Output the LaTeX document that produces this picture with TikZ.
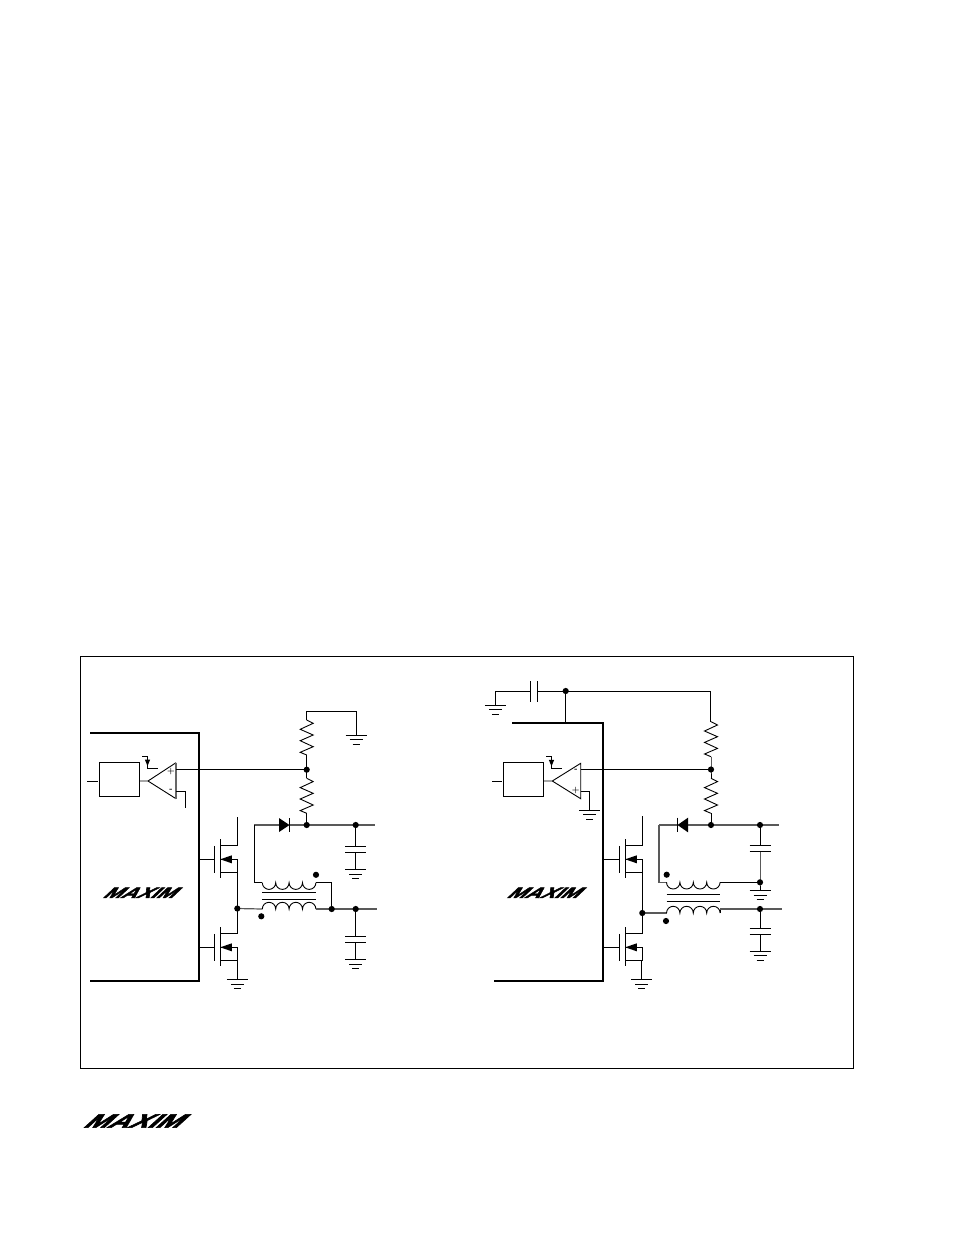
\documentclass[tikz,border=0pt]{standalone}
\usepackage{fontspec}
\newfontfamily\logofont[FakeSlant=0.75, FakeBold=2.5]{Liberation Sans Bold}
\usetikzlibrary{positioning, calc}
\tikzset{
	wire/.style={line width=0.9pt},
	rail/.style={line width=1.2pt, black!65},
	chip/.style={line width=2.4pt, line cap=butt, line join=miter},
	dot/.style={circle, fill, inner sep=0pt, minimum size=6.2pt},
	block/.style={draw, line width=0.9pt, inner sep=0pt, minimum width=40pt, minimum height=34.5pt},
	pin/.style={font=\fontsize{8}{8}\selectfont\bfseries, inner sep=0pt},
	logo/.style={inner sep=0pt},
	gnd/.pic={\draw[wire] (-10.5,0) -- (10.5,0) (-6.5,4.8) -- (6.5,4.8) (-3.5,9.2) -- (3.5,9.2);},
	plates/.pic={\draw[wire] (-10.5,0) -- (10.5,0) (-10.5,6) -- (10.5,6);},
	zigzag/.pic={\draw[wire] (0,0) -- (6.5,3.3) -- (-6.5,9.3) -- (6.5,15) -- (-6.5,20.7) -- (6.5,26.7) -- (-6.5,32.3) -- (0,35);},
	coildown/.pic={\draw[wire] (0,0) arc[start angle=180, delta angle=180, radius=6.7pt] arc[start angle=180, delta angle=180, radius=6.7pt] arc[start angle=180, delta angle=180, radius=6.7pt] arc[start angle=180, delta angle=180, radius=6.7pt];},
	coilup/.pic={\draw[wire] (0,0) arc[start angle=180, delta angle=-180, radius=6.7pt] arc[start angle=180, delta angle=-180, radius=6.7pt] arc[start angle=180, delta angle=-180, radius=6.7pt] arc[start angle=180, delta angle=-180, radius=6.7pt];},
	core/.pic={\draw[wire] (0,0) -- (53.7,0) (0,7) -- (53.7,7);},
	mosfet/.pic={
		\draw[wire] (-6,-13.5) -- (-6,13.5) (0,-20) -- (0,19);
		\draw[wire] (0,-13.5) -- (17,-13.5) (0,13.5) -- (17,13.5) -- (17,0) -- (0,0);
		\fill (0,0) -- (11.5,-4) -- (11.5,4) -- cycle;
		\coordinate (-g) at (-6,0);
		\coordinate (-d) at (17,-13.5);
		\coordinate (-s) at (17,13.5);
	},
	sense/.pic={
		\draw[wire] (0,0) -- (5.5,0) -- (5.5,12) -- (15.5,12);
		\fill (2.8,3.5) -- (8.2,3.5) -- (5.5,10) -- cycle;
	}
}
\newcommand{\maximlogo}[2]{\resizebox{#1}{#2}{\logofont MAXIM}}

\begin{document}
\begin{tikzpicture}[x=1pt, y=-1pt]
	\useasboundingbox (0,0) rectangle (954,1235);
	\draw[line width=1pt] (80.5,656.5) rectangle (853.7,1068.5);

	% left circuit
	\coordinate (lfb) at (306.7,769.7);
	\coordinate (lrect) at (306.7,825);
	\coordinate (lcapa) at (355.7,825);
	\coordinate (lsw) at (237.3,908.5);
	\coordinate (lsec) at (331.7,909);
	\coordinate (lcapb) at (355.7,909);
	\draw[chip] (90,733) -- (199,733) -- (199,981) -- (90,981);
	\node[block] (lpwm) at (119.5,779.5) {};
	\coordinate (ltip) at (148,781);
	\coordinate (lplus) at (176,769.7);
	\coordinate (lminus) at (176,791);
	\draw[wire] (87.3,781) -- (98,781);
	\draw[wire] (139.7,781) -- (ltip) -- (176,762.7);
	\draw[wire] (ltip) -- (176,798.7);
	\draw[line width=1.2pt, black!60] (176,762.7) -- (176,798.7);
	\node[pin] (lp) at (171,771) {+};
	\node[pin] (lm) at (171,790) {-};
	\pic at (142,756) {sense};
	\draw[wire] (lplus) -- (lfb);
	\draw[wire] (lminus) -- (185,791) -- (185,808.3);
	% divider
	\draw[wire] (lfb) -- (306.7,755);
	\pic at (306.7,720) {zigzag};
	\draw[wire] (306.7,720) -- (306.7,711.3) -- (356.7,711.3) -- (356.7,735);
	\pic at (356,735) {gnd};
	\draw[wire] (lfb) -- (306.7,778.3);
	\pic at (306.7,778.3) {zigzag};
	\draw[wire] (306.7,813.3) -- (lrect);
	% diode and rail
	\draw[rail] (254.3,825) -- (279,825);
	\draw[rail] (289.7,825) -- (375,825);
	\fill (279,818) -- (289.5,825) -- (279,832) -- cycle;
	\draw[wire] (289.7,818) -- (289.7,832);
	\draw[wire] (lcapa) -- (355.7,846);
	\pic at (355.7,846) {plates};
	\draw[wire] (355.7,852) -- (355.7,869.3);
	\pic at (355.7,869.3) {gnd};
	% switches
	\pic (lhi) at (220.3,859.3) {mosfet};
	\pic (llo) at (220.3,947.3) {mosfet};
	\draw[wire] (199,859.3) -- (lhi-g);
	\draw[wire] (199,947.3) -- (llo-g);
	\draw[wire] (lhi-d) -- (237.3,816.7);
	\draw[wire] (lhi-s) -- (lsw) -- (llo-d);
	\draw[wire] (llo-s) -- (237.3,979.3);
	\pic at (237.3,979.3) {gnd};
	% transformer
	\draw[wire] (254.3,825) -- (254.3,882.7) -- (262.3,882.7);
	\pic at (262.3,882.7) {coildown};
	\draw[wire] (316,882.7) -- (331.7,882.7) -- (lsec);
	\pic at (262.3,892.3) {core};
	\draw[rail] (lsw) -- (262.3,909);
	\pic at (262.3,909) {coilup};
	\draw[rail] (316,909) -- (376.7,909);
	\draw[wire] (lcapb) -- (355.7,936.7);
	\pic at (355.7,936.7) {plates};
	\draw[wire] (355.7,942.7) -- (355.7,959.3);
	\pic at (355.7,959.3) {gnd};
	\foreach \p in {lfb, lrect, lcapa, lsw, lsec, lcapb}
		\node[dot] at (\p) {};
	\node[dot] (ldotb) at (316,874.8) {};
	\node[dot] (ldota) at (261.3,916.3) {};
	\node[logo] (lchip) at (137.5,892.8) {\maximlogo{71pt}{10.3pt}};

	% right circuit
	\coordinate (rtop) at (565.7,691);
	\coordinate (rfb) at (711,769.5);
	\coordinate (rrect) at (711,825);
	\coordinate (rcapa) at (760,825);
	\coordinate (rret) at (760,882.3);
	\coordinate (rsw) at (642.3,913);
	\coordinate (rcapb) at (760,909);
	\draw[chip] (512,723) -- (603.2,723) -- (603.2,981) -- (494,981);
	\node[block] (rpwm) at (523.3,779.5) {};
	\coordinate (rtip) at (552.3,781);
	\coordinate (rminus) at (580.7,769.5);
	\coordinate (rplus) at (580.7,791.3);
	\draw[wire] (492,781) -- (502.3,781);
	\draw[wire] (543.3,781) -- (rtip) -- (580.7,763.3) -- (580.7,798.7) -- (rtip);
	\node[pin] (rm) at (576,770) {-};
	\node[pin] (rp) at (575.7,790.7) {+};
	\pic at (546,756.3) {sense};
	\draw[wire] (rminus) -- (rfb);
	\draw[wire] (rplus) -- (589.7,791.3) -- (589.7,810);
	\pic at (589.7,810) {gnd};
	% input filter
	\draw[wire] (530.7,691) -- (495.3,691) -- (495.3,705);
	\pic at (495.3,705) {gnd};
	\draw[wire] (530.7,681) -- (530.7,701.7) (537.3,681) -- (537.3,701.7);
	\draw[wire] (537.3,691) -- (rtop) -- (710.5,691) -- (710.5,721.7);
	\draw[wire] (rtop) -- (565.7,723);
	\pic at (711,721.7) {zigzag};
	\draw[wire] (711,756.7) -- (rfb) -- (711,778.3);
	\pic at (711,778.3) {zigzag};
	\draw[wire] (711,813.3) -- (rrect);
	% diode and rail
	\draw[rail] (659,825) -- (677.3,825);
	\draw[rail] (688,825) -- (779,825);
	\fill (688,817.7) -- (677.5,825) -- (688,832.3) -- cycle;
	\draw[wire] (677.3,817.7) -- (677.3,832.3);
	\draw[wire] (rcapa) -- (760,845.7);
	\pic at (760,845.7) {plates};
	\draw[wire] (760,851.7) -- (rret) -- (760,890.3);
	\pic at (760,890.3) {gnd};
	% switches
	\pic (rhi) at (625.3,859.3) {mosfet};
	\pic (rlo) at (625.3,947.3) {mosfet};
	\draw[wire] (603.2,859.3) -- (rhi-g);
	\draw[wire] (603.2,947.3) -- (rlo-g);
	\draw[wire] (rhi-d) -- (642.3,816);
	\draw[wire] (rhi-s) -- (rsw) -- (rlo-d);
	\draw[wire] (rlo-s) -- (641.5,960.8) -- (641.5,979.3);
	\pic at (641.5,979.3) {gnd};
	% transformer
	\draw[rail] (659,825) -- (659,882.3) -- (666.5,882.3);
	\pic at (666.5,882.3) {coildown};
	\draw[wire] (720.2,882.3) -- (rret);
	\pic at (666.5,894.3) {core};
	\draw[rail] (rsw) -- (666.5,913);
	\pic at (666.5,913) {coilup};
	\draw[wire] (720.2,913) -- (720.2,909);
	\draw[rail] (720.2,909) -- (781.7,909);
	\draw[wire] (rcapb) -- (760,928.3);
	\pic at (760,928.3) {plates};
	\draw[wire] (760,934.3) -- (760,951);
	\pic at (760,951) {gnd};
	\foreach \p in {rtop, rfb, rrect, rcapa, rret, rsw, rcapb}
		\node[dot] at (\p) {};
	\node[dot] (rdotb) at (666.7,874.7) {};
	\node[dot] (rdota) at (666,921) {};
	\node[logo] (rchip) at (541.5,892.8) {\maximlogo{71pt}{10.3pt}};

	\node[logo] (pagelogo) at (130.2,1121) {\maximlogo{96pt}{13.4pt}};
\end{tikzpicture}
\end{document}
